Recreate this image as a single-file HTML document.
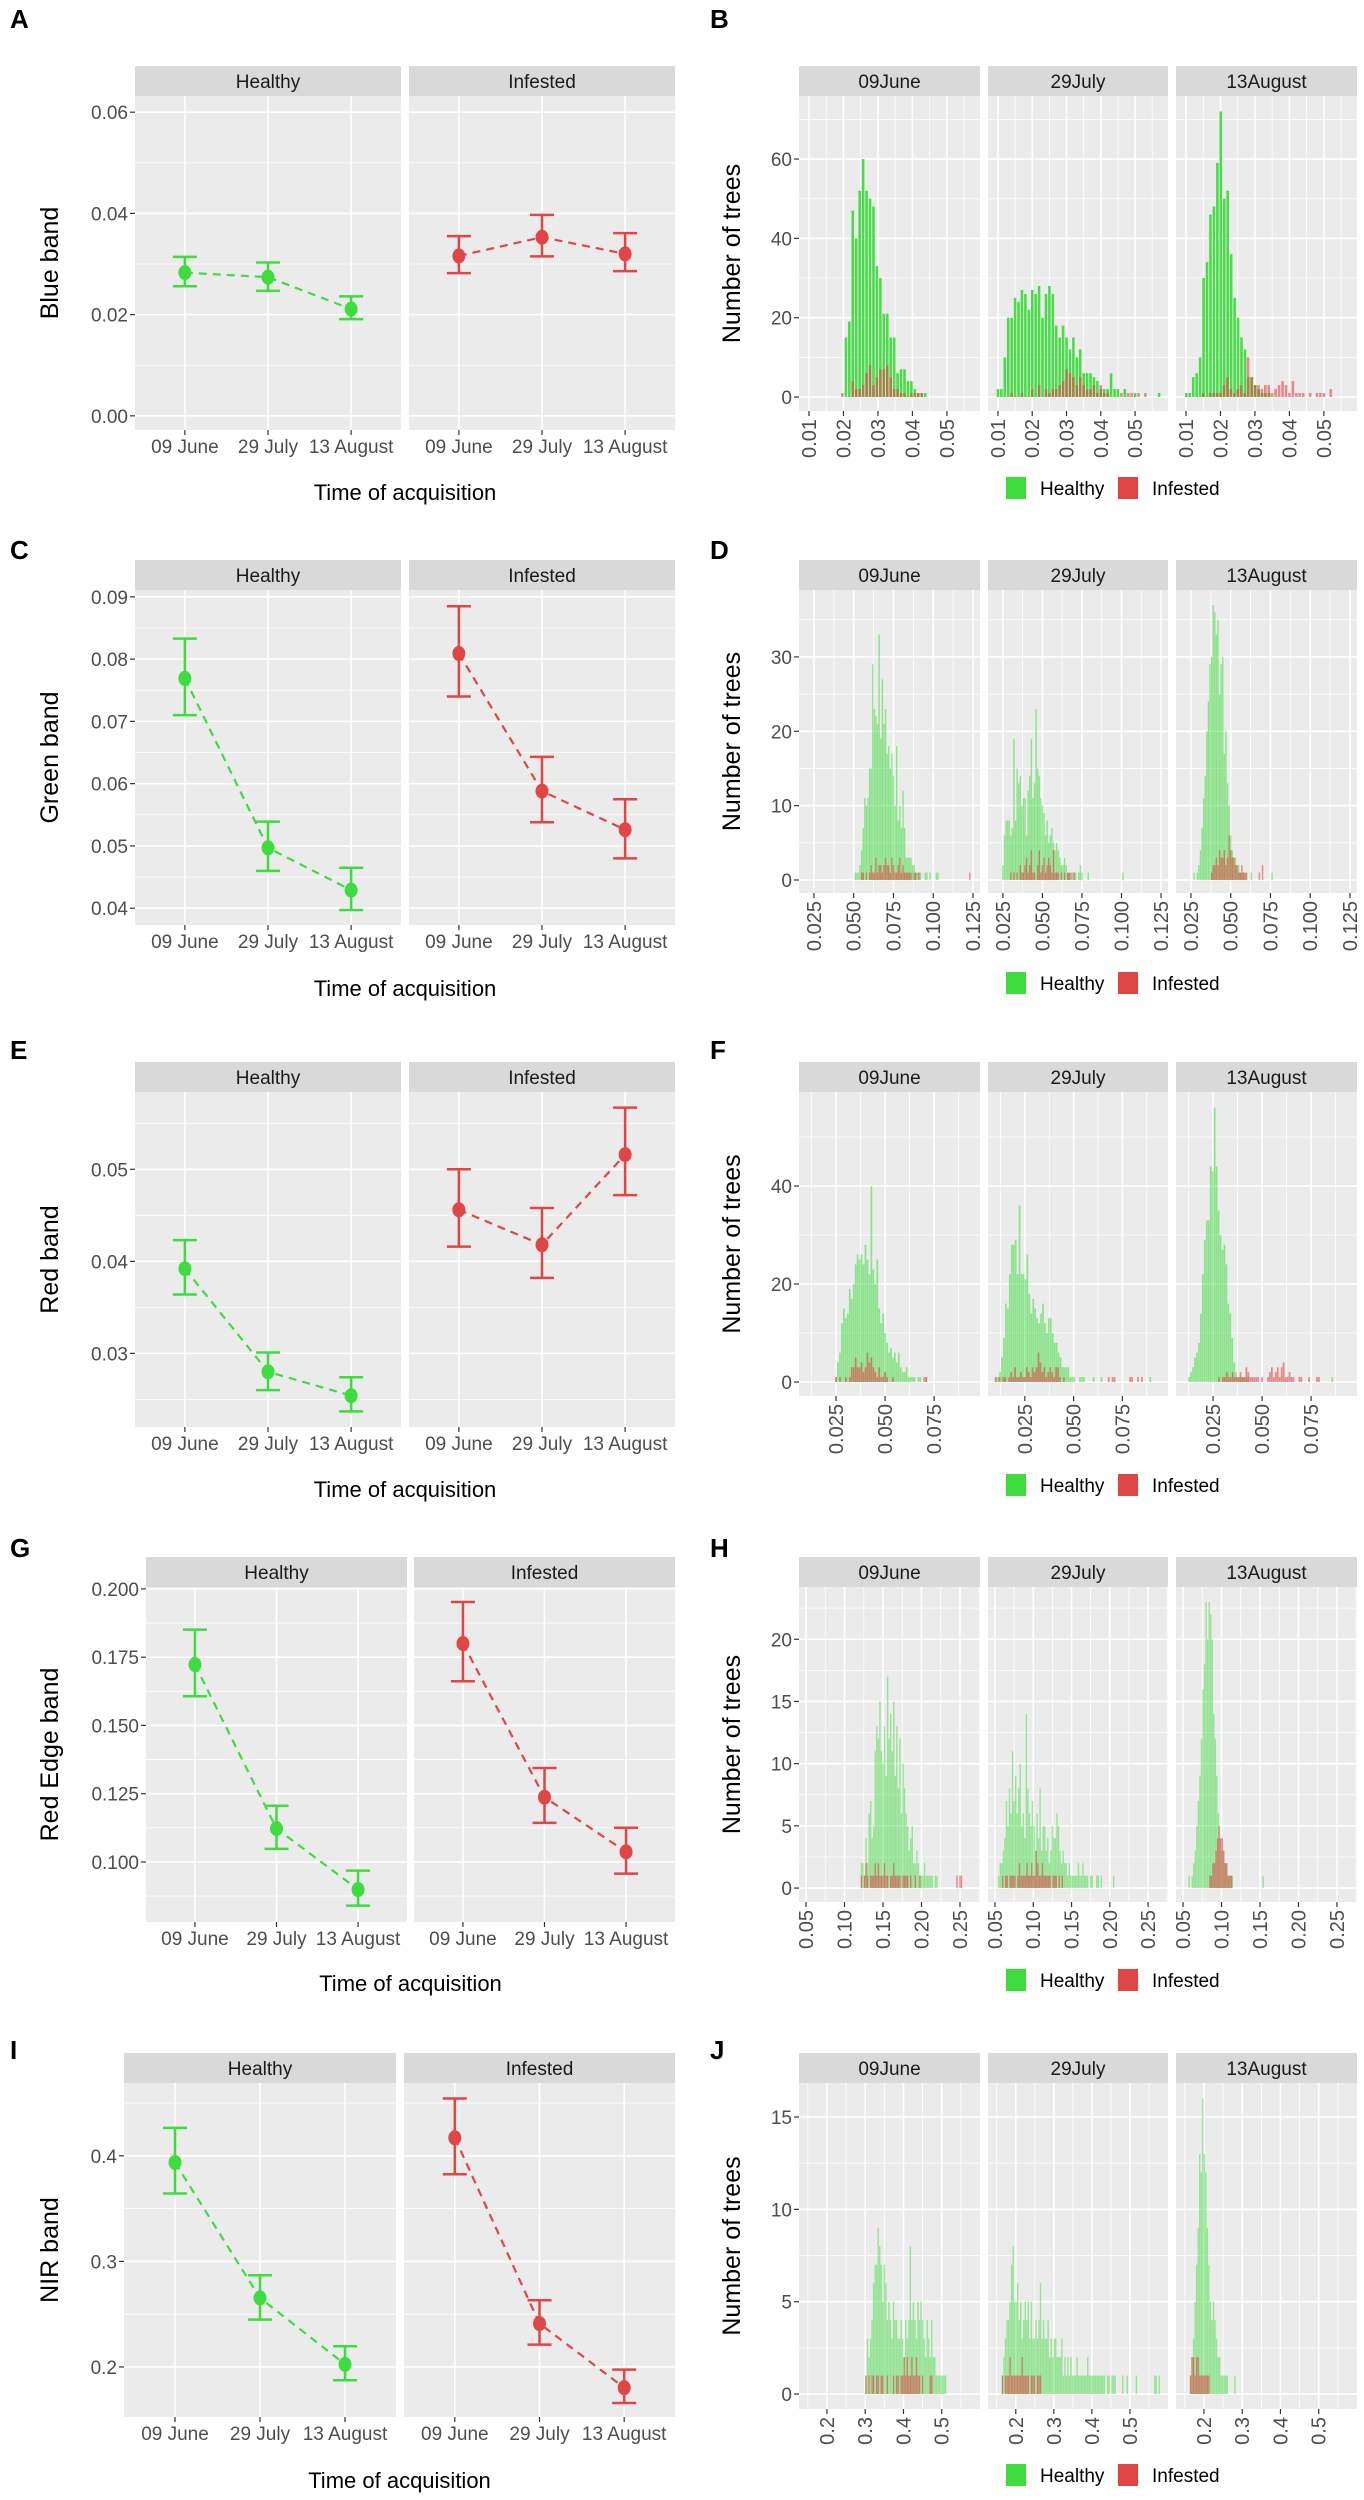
<!DOCTYPE html>
<html><head><meta charset="utf-8"><title>Spectral bands: healthy vs infested</title>
<style>
html,body{margin:0;padding:0;background:#fff;}
svg{display:block;font-family:"Liberation Sans",Arial,sans-serif;}
</style></head>
<body>
<svg id="fig" width="1364" height="2500" viewBox="0 0 1364 2500" xmlns="http://www.w3.org/2000/svg"></svg>
<script>
// ---------- dates / groups ----------
const dates = ["09 June","29 July","13 August"];
const histDates = ["09June","29July","13August"];
const groups = ["Healthy","Infested"];

// ---------- mean ± CI (left panels) ----------
const blueMeanH=[0.0283,0.0274,0.0211], blueLoH=[0.0256,0.0247,0.0191], blueHiH=[0.0314,0.0303,0.0236];
const blueMeanI=[0.0316,0.0353,0.0320], blueLoI=[0.0282,0.0315,0.0286], blueHiI=[0.0355,0.0397,0.0361];
const greenMeanH=[0.0769,0.0497,0.0429], greenLoH=[0.0710,0.0460,0.0397], greenHiH=[0.0833,0.0539,0.0465];
const greenMeanI=[0.0809,0.0588,0.0526], greenLoI=[0.0740,0.0538,0.0480], greenHiI=[0.0885,0.0643,0.0575];
const redMeanH=[0.0392,0.0280,0.0254], redLoH=[0.0364,0.0260,0.0237], redHiH=[0.0423,0.0301,0.0274];
const redMeanI=[0.0456,0.0418,0.0516], redLoI=[0.0416,0.0382,0.0472], redHiI=[0.0500,0.0458,0.0567];
const reMeanH=[0.1723,0.1122,0.0899], reLoH=[0.1607,0.1048,0.0840], reHiH=[0.1851,0.1206,0.0968];
const reMeanI=[0.1800,0.1237,0.1037], reLoI=[0.1662,0.1143,0.0957], reHiI=[0.1952,0.1344,0.1125];
const nirMeanH=[0.3937,0.2654,0.2025], nirLoH=[0.3643,0.2449,0.1874], nirHiH=[0.4265,0.2869,0.2196];
const nirMeanI=[0.4171,0.2411,0.1804], nirLoI=[0.3826,0.2212,0.1659], nirHiI=[0.4543,0.2632,0.1975];

// ---------- left axis ticks ----------
const blueTicks=[0,0.02,0.04,0.06], blueTickLabels=["0.00","0.02","0.04","0.06"];
const greenTicks=[0.04,0.05,0.06,0.07,0.08,0.09], greenTickLabels=["0.04","0.05","0.06","0.07","0.08","0.09"];
const redTicks=[0.03,0.04,0.05], redTickLabels=["0.03","0.04","0.05"];
const reTicks=[0.1,0.125,0.15,0.175,0.2], reTickLabels=["0.100","0.125","0.150","0.175","0.200"];
const nirTicks=[0.2,0.3,0.4], nirTickLabels=["0.2","0.3","0.4"];

// ---------- histogram counts (bin starts + counts) ----------
const blueJunHStart=0.0207, blueJunH=[15,19,47,40,52,60,52,50,48,33,30,21,21,15,15,6,7,7,4,4,2,1,1,1];
const blueJunIStart=0.0197, blueJunI=[1,0,0,4,2,2,3,6,8,3,5,7,7,8,5,2,2,1,1,0,1,1,1,1];
const blueJulHStart=0.0100, blueJulH=[2,2,10,20,20,25,24,27,26,22,27,26,28,20,26,28,26,18,15,18,15,12,15,10,12,6,6,6,5,4,2,2,2,6,2,2,0,2,0,0,1,0,0,0,0,0,0,1];
const blueJulIStart=0.0100, blueJulI=[0,0,0,0,1,0,0,1,0,0,2,0,3,0,2,1,2,2,3,4,7,6,5,3,5,3,2,2,3,1,3,1,1,0,0,0,1,0,1,1,0,1,0,1];
const blueAugHStart=0.0101, blueAugH=[1,1,5,6,10,30,34,46,48,59,72,50,52,36,25,20,15,12,5,5,3,2,1,1,1];
const blueAugIStart=0.0150, blueAugI=[1,0,1,1,1,1,3,5,2,1,2,3,1,10,5,3,3,2,3,3,1,2,3,4,3,1,4,1,1,1,0,1,0,1,1,1,0,2];

const greenJunHStart=0.051, greenJunH=[1,1,1,2,4,7,11,10,11,15,15,29,23,22,21,33,19,27,21,23,17,18,15,17,14,10,18,8,10,7,12,7,3,3,3,3,2,2,1,1,1,1,0,0,1,1,0,1,0,0,0,1,1];
const greenJunIStart=0.055, greenJunI=[1,1,0,1,0,1,2,1,1,3,1,2,2,1,2,3,2,2,1,3,2,1,1,2,3,1,2,1,1,1,1,1,0,1,1,0,1,0,0,0,0,0,0,0,0,0,0,0,0,0,0,0,0,0,0,0,0,0,0,0,0,0,0,0,0,0,0,0,1];
const greenJulHStart=0.025, greenJulH=[2,6,8,8,8,6,7,19,8,15,13,14,10,11,11,6,12,14,19,11,13,23,15,14,11,10,9,6,8,5,6,7,5,4,5,4,3,2,2,3,2,1,1,0,1,1,1,0,1,2,1,0,0,0,1,0,0,0,0,0,0,0,0,0,0,0,0,0,0,0,0,0,0,0,0,0,1];
const greenJulIStart=0.030, greenJulI=[1,0,1,0,1,0,2,1,1,2,3,1,2,4,1,1,0,2,4,1,2,3,1,2,3,2,1,4,1,1,1,0,1,0,1,0,1,1,1,0,1];
const greenAugHStart=0.027, greenAugH=[1,0,1,2,4,7,11,14,20,24,29,30,37,36,33,35,25,29,30,17,20,13,10,6,4,3,3,2,2,1,1,1,1,0,0,0,1,0,0,0,0,0,0,0,0,0,0,0,0,1];
const greenAugIStart=0.038, greenAugI=[1,2,2,3,2,4,3,3,4,2,3,6,4,3,3,2,2,1,1,2,1,1,1,0,0,0,0,0,0,0,1,0,2];

const redJunHStart=0.025, redJunH=[1,4,6,12,15,13,14,19,17,20,24,26,25,26,24,28,25,22,40,23,20,25,15,12,14,10,8,6,7,5,6,4,6,3,2,2,3,1,1,1,1,0,1,1,0,0,1];
const redJunIStart=0.025, redJunI=[1,0,1,0,0,1,0,1,3,3,5,3,3,4,2,3,6,4,5,3,2,1,3,1,1,2,1,0,0,1,0,0,0,0,0,0,0,0,0,0,0,0,0,0,0,1,1];
const redJulHStart=0.0103, redJulH=[1,1,2,5,9,16,15,22,28,28,29,22,36,22,22,21,26,18,14,17,15,13,12,14,16,12,10,13,13,10,8,8,6,5,3,3,3,3,1,1,1,0,0,1,1,1,0,0,0,0,1,0,0,0,1,0,0,0,0,0,0,0,0,0,0,0,0,0,0,0,0,0,0,0,0,0,0,0,0,1];
const redJulIStart=0.010, redJulI=[1,0,1,0,1,1,0,1,2,1,3,1,1,2,1,1,3,2,1,3,2,3,6,4,2,3,1,2,3,2,1,3,3,1,0,1,0,0,0,0,0,0,0,0,0,0,0,0,0,0,0,0,0,0,0,0,0,0,1,0,1,1,0,0,0,0,0,0,0,1,1,0,0,1,0,1];
const redAugHStart=0.0128, redAugH=[1,2,3,5,6,8,14,22,29,33,33,44,43,56,44,35,30,27,28,24,16,14,9,4,2,1,1,1,1,1,1,0,0,0,0,0,0,0,0,0,0,0,0,0,0,0,0,0,0,0,0,0,0,0,0,0,0,0,0,0,0,0,0,0,0,0,0,0,0,0,0,0,0,1];
const redAugIStart=0.028, redAugI=[1,0,1,1,2,1,1,2,1,1,1,2,1,1,3,2,1,1,1,1,1,0,1,0,0,1,2,3,1,2,3,1,3,4,1,1,2,1,1,0,0,1,1,0,0,0,1,0,0,0,1,1];

const reJunHStart=0.122, reJunH=[2,2,1,4,2,6,7,4,5,11,13,12,15,11,10,13,9,17,12,14,11,15,9,13,8,12,6,10,8,6,5,3,4,5,2,2,3,2,1,1,1,2,1,1,1,1,1,0,1,1];
const reJunIStart=0.122, reJunI=[1,0,1,2,1,0,1,1,1,2,1,2,1,1,1,2,1,1,0,1,1,2,1,1,1,1,0,1,1,1,1,0,1,0,0,1,0,0,1,0,0,0,0,0,0,0,0,0,0,0,0,0,0,0,0,0,0,0,0,0,0,0,1,0,1,1];
const reJulHStart=0.055, reJulH=[1,2,2,3,4,7,5,8,6,11,7,9,6,8,10,5,6,4,14,8,6,5,7,5,3,6,4,8,3,5,5,3,4,2,3,5,4,4,6,5,3,2,3,2,2,1,2,1,1,1,1,1,2,1,1,2,1,1,1,0,1,1,0,0,1,1,0,1,0,0,0,0,0,0,0,1];
const reJulIStart=0.060, reJulI=[1,0,1,1,0,1,1,1,1,0,1,2,1,1,1,1,2,1,1,2,1,1,3,2,1,1,2,1,1,1,1,1,0,1,1,1,0,1,0,1];
const reAugHStart=0.058, reAugH=[1,0,1,2,3,5,7,9,12,16,18,23,20,23,22,20,14,12,9,6,4,3,3,2,2,1,1,1,1,0,0,0,0,0,0,0,0,0,0,0,0,0,0,0,0,0,0,0,1];
const reAugIStart=0.085, reAugI=[1,1,2,2,3,4,5,4,4,3,2,2,1,1,1];

const nirJunHStart=0.302, nirJunH=[1,3,2,3,4,6,7,7,9,8,7,5,7,6,4,5,4,3,5,4,4,3,3,4,3,2,4,3,4,8,4,5,4,3,5,4,5,4,3,2,4,3,2,4,2,2,1,1,1,1,1,1,1];
const nirJunIStart=0.302, nirJunI=[1,0,1,0,1,1,0,1,1,0,1,1,0,0,1,0,0,0,1,0,1,1,0,1,1,2,1,2,1,1,2,1,1,2,1,1,0,1,0,0,0,0,1,1];
const nirJulHStart=0.165, nirJulH=[1,2,3,4,4,5,7,8,5,5,6,4,5,3,4,5,4,5,3,5,3,3,4,3,4,6,3,4,3,3,4,2,3,2,3,3,2,2,2,3,1,2,1,2,1,2,1,1,1,2,1,1,1,1,1,1,2,1,1,1,1,1,1,1,1,1,1,1,0,1,1,0,1,1,1,0,0,0,0,1,0,0,1,0,0,0,0,0,1,0,0,0,0,0,0,0,0,0,0,0,1,1,0,1];
const nirJulIStart=0.165, nirJulI=[1,0,1,1,1,2,1,1,1,1,1,1,1,2,1,1,1,1,0,1,1,1,0,1,1,1];
const nirAugHStart=0.165, nirAugH=[1,2,3,5,7,9,13,12,16,13,12,9,7,5,4,5,4,3,2,2,1,1,1,1,1,0,0,0,0,1];
const nirAugIStart=0.165, nirAugI=[1,2,2,1,2,2,1,1,1,1,1,1,1];

// histogram axis ticks
const blueHistYTicks=[0,20,40,60], blueHistXTicks=[0.01,0.02,0.03,0.04,0.05], blueHistXLabels=["0.01","0.02","0.03","0.04","0.05"];
const greenHistYTicks=[0,10,20,30], greenHistXTicks=[0.025,0.05,0.075,0.1,0.125], greenHistXLabels=["0.025","0.050","0.075","0.100","0.125"];
const redHistYTicks=[0,20,40], redHistXTicks=[0.025,0.05,0.075], redHistXLabels=["0.025","0.050","0.075"];
const reHistYTicks=[0,5,10,15,20], reHistXTicks=[0.05,0.1,0.15,0.2,0.25], reHistXLabels=["0.05","0.10","0.15","0.20","0.25"];
const nirHistYTicks=[0,5,10,15], nirHistXTicks=[0.2,0.3,0.4,0.5], nirHistXLabels=["0.2","0.3","0.4","0.5"];

// ---------- rendering ----------
const NS="http://www.w3.org/2000/svg";
const svg=document.getElementById('fig');
const GREEN="#3fdc3f", RED="#e04646", PANEL="#ebebeb", STRIP="#d9d9d9";
function mk(tag,attrs,parent){const e=document.createElementNS(NS,tag);for(const k in attrs)e.setAttribute(k,attrs[k]);(parent||svg).appendChild(e);return e;}
function txt(s,attrs,parent){const e=mk('text',attrs,parent);e.textContent=s;return e;}

function drawLeft(cfg){
  const g=mk('g',{});
  
  
  let t=txt(cfg.letter,{x:10,y:cfg.letterY,'font-size':26,'font-weight':'bold',fill:'#000'},g);
  
  
  const ys=v=>cfg.s1+(cfg.top-v)/(cfg.top-cfg.bot)*(cfg.b-cfg.s1);
  const series=[[cfg.mH,cfg.loH,cfg.hiH,GREEN],[cfg.mI,cfg.loI,cfg.hiI,RED]];
  for(let p=0;p<2;p++){
    const [x0,x1]=cfg.px[p];
    const sr=mk('rect',{x:x0,y:cfg.s0,width:x1-x0,height:cfg.s1-cfg.s0,fill:STRIP},g);
    
    
    const st=txt(groups[p],{x:(x0+x1)/2,y:(cfg.s0+cfg.s1)/2+7,'font-size':19,'text-anchor':'middle',fill:'#1a1a1a'},g);
    
    
    const pr=mk('rect',{x:x0,y:cfg.s1,width:x1-x0,height:cfg.b-cfg.s1,fill:PANEL},g);
    
    
    for(let i=0;i<cfg.ticks.length-1;i++){const v=(cfg.ticks[i]+cfg.ticks[i+1])/2;mk('line',{x1:x0,x2:x1,y1:ys(v),y2:ys(v),stroke:'#fff','stroke-width':0.8},g);}
    const extraMinor=[cfg.ticks[0]-(cfg.ticks[1]-cfg.ticks[0])/2,cfg.ticks[cfg.ticks.length-1]+(cfg.ticks[1]-cfg.ticks[0])/2];
    extraMinor.forEach(v=>{if(v<cfg.top&&v>cfg.bot)mk('line',{x1:x0,x2:x1,y1:ys(v),y2:ys(v),stroke:'#fff','stroke-width':0.8},g);});
    cfg.ticks.forEach(v=>mk('line',{x1:x0,x2:x1,y1:ys(v),y2:ys(v),stroke:'#fff','stroke-width':1.6},g));
    const xc=i=>x0+(0.6+i)*(x1-x0)/3.2;
    for(let i=0;i<3;i++){
      mk('line',{x1:xc(i),x2:xc(i),y1:cfg.s1,y2:cfg.b,stroke:'#fff','stroke-width':1.6},g);
      mk('line',{x1:xc(i),x2:xc(i),y1:cfg.b,y2:cfg.b+5,stroke:'#333','stroke-width':1.2},g);
      const cl=txt(dates[i],{x:xc(i),y:cfg.b+23,'font-size':19,'text-anchor':'middle',fill:'#4d4d4d'},g);
      
      
    }
    const [m,lo,hi,col]=series[p];
    const ln=mk('polyline',{points:m.map((v,i)=>xc(i)+','+ys(v)).join(' '),fill:'none',stroke:col,'stroke-width':2.2,'stroke-dasharray':'8,6'},g);
    
    
    for(let i=0;i<3;i++){
      const eb=mk('path',{d:`M${xc(i)-12},${ys(hi[i])}H${xc(i)+12}M${xc(i)},${ys(hi[i])}V${ys(lo[i])}M${xc(i)-12},${ys(lo[i])}H${xc(i)+12}`,stroke:col,'stroke-width':2.5,fill:'none'},g);
      
      
      const pt=mk('ellipse',{cx:xc(i),cy:ys(m[i]),rx:6.5,ry:7.5,fill:col},g);
      
      
    }
    if(p===0){
      cfg.ticks.forEach((v,i)=>{
        mk('line',{x1:x0-5,x2:x0,y1:ys(v),y2:ys(v),stroke:'#333','stroke-width':1.2},g);
        const tl=txt(cfg.tickLabels[i],{x:x0-7,y:ys(v)+7,'font-size':19,'text-anchor':'end',fill:'#4d4d4d'},g);
        
        
      });
    }
  }
  const yc=(cfg.s1+cfg.b)/2;
  const yt=txt(cfg.ytitle,{x:0,y:0,'font-size':25,'text-anchor':'middle',fill:'#000',transform:`translate(58,${yc}) rotate(-90)`},g);
  
  
  const xt=txt('Time of acquisition',{x:(cfg.px[0][0]+cfg.px[1][1])/2,y:cfg.titleY+8,'font-size':22,'text-anchor':'middle',fill:'#000'},g);
  
  
}

function drawHist(cfg){
  const g=mk('g',{});
  
  
  const px=[[799,980],[988,1168],[1176,1357]];
  let t=txt(cfg.letter,{x:710,y:cfg.letterY,'font-size':26,'font-weight':'bold',fill:'#000'},g);
  
  
  const ys=v=>cfg.s1+(cfg.top-v)/(cfg.top-cfg.bot)*(cfg.b-cfg.s1);
  for(let p=0;p<3;p++){
    const [x0,x1]=px[p];
    const xs=v=>x0+(v-cfg.xmin)/(cfg.xmax-cfg.xmin)*(x1-x0);
    const sr=mk('rect',{x:x0,y:cfg.s0,width:x1-x0,height:cfg.s1-cfg.s0,fill:STRIP},g);
    
    
    const st=txt(histDates[p],{x:(x0+x1)/2,y:(cfg.s0+cfg.s1)/2+7,'font-size':19,'text-anchor':'middle',fill:'#1a1a1a'},g);
    
    
    const pr=mk('rect',{x:x0,y:cfg.s1,width:x1-x0,height:cfg.b-cfg.s1,fill:PANEL},g);
    
    
    const yt=cfg.yTicks, ystep=yt[1]-yt[0];
    for(let v=yt[0]-ystep/2;v<cfg.top;v+=ystep){if(v>cfg.bot)mk('line',{x1:x0,x2:x1,y1:ys(v),y2:ys(v),stroke:'#fff','stroke-width':0.8},g);}
    yt.forEach(v=>mk('line',{x1:x0,x2:x1,y1:ys(v),y2:ys(v),stroke:'#fff','stroke-width':1.6},g));
    const xt=cfg.xTicks, xstep=xt[1]-xt[0];
    for(let v=xt[0]-xstep/2;v<cfg.xmax;v+=xstep){if(v>cfg.xmin)mk('line',{x1:xs(v),x2:xs(v),y1:cfg.s1,y2:cfg.b,stroke:'#fff','stroke-width':0.8},g);}
    xt.forEach((v,i)=>{
      mk('line',{x1:xs(v),x2:xs(v),y1:cfg.s1,y2:cfg.b,stroke:'#fff','stroke-width':1.6},g);
      mk('line',{x1:xs(v),x2:xs(v),y1:cfg.b,y2:cfg.b+5,stroke:'#333','stroke-width':1.2},g);
      const tl=txt(cfg.xLabels[i],{x:0,y:0,'font-size':20,'text-anchor':'end',fill:'#4d4d4d',transform:`translate(${xs(v)+7},${cfg.b+8}) rotate(-90)`},g);
      
      
    });
    const sets=[[cfg.data[p][0],cfg.data[p][1],GREEN,cfg.gOp,'healthy-bar'],[cfg.data[p][2],cfg.data[p][3],RED,0.6,'infested-bar']];
    sets.forEach(([start,counts,col,op,nm])=>{
      counts.forEach((c,i)=>{
        if(c<=0)return;
        const c0=start+i*cfg.bw;
        const xa=xs(c0-cfg.bw/2), xb=xs(c0+cfg.bw/2);
        const w=Math.max(0.6,(xb-xa)*cfg.fillFrac);
        const r=mk('rect',{x:xa+((xb-xa)-w)/2,y:ys(c),width:w,height:ys(0)-ys(c),fill:col,'fill-opacity':op},g);
        
        
      });
    });
    if(p===0){
      yt.forEach(v=>{
        mk('line',{x1:x0-5,x2:x0,y1:ys(v),y2:ys(v),stroke:'#333','stroke-width':1.2},g);
        const tl=txt(String(v),{x:x0-7,y:ys(v)+7,'font-size':19,'text-anchor':'end',fill:'#4d4d4d'},g);
        
        
      });
    }
  }
  const yc=(cfg.s1+cfg.b)/2;
  const ytl=txt('Number of trees',{x:0,y:0,'font-size':25,'text-anchor':'middle',fill:'#000',transform:`translate(740,${yc}) rotate(-90)`},g);
  
  
  const ly=cfg.legY;
  const l1=mk('rect',{x:1006,y:ly-11,width:20,height:22,fill:GREEN},g);
  
  
  const l1t=txt('Healthy',{x:1040,y:ly+7,'font-size':19,fill:'#000'},g);
  
  
  const l2=mk('rect',{x:1118,y:ly-11,width:20,height:22,fill:RED},g);
  
  
  const l2t=txt('Infested',{x:1152,y:ly+7,'font-size':19,fill:'#000'},g);
  
  
}

const P2=[[135,401],[409,675]];
drawLeft({name:'blue-band-chart',letter:'A',letterY:28,s0:66,s1:96,b:430,top:0.0632,bot:-0.0028,px:P2,ticks:blueTicks,tickLabels:blueTickLabels,ytitle:'Blue band',titleY:492,mH:blueMeanH,loH:blueLoH,hiH:blueHiH,mI:blueMeanI,loI:blueLoI,hiI:blueHiI});
drawLeft({name:'green-band-chart',letter:'C',letterY:559,s0:560,s1:590,b:925,top:0.0911,bot:0.0373,px:P2,ticks:greenTicks,tickLabels:greenTickLabels,ytitle:'Green band',titleY:988,mH:greenMeanH,loH:greenLoH,hiH:greenHiH,mI:greenMeanI,loI:greenLoI,hiI:greenHiI});
drawLeft({name:'red-band-chart',letter:'E',letterY:1059,s0:1062,s1:1092,b:1427,top:0.0584,bot:0.0220,px:P2,ticks:redTicks,tickLabels:redTickLabels,ytitle:'Red band',titleY:1489,mH:redMeanH,loH:redLoH,hiH:redHiH,mI:redMeanI,loI:redLoI,hiI:redHiI});
drawLeft({name:'red-edge-band-chart',letter:'G',letterY:1557,s0:1557,s1:1587,b:1922,top:0.2007,bot:0.078,px:[[146,407],[414,675]],ticks:reTicks,tickLabels:reTickLabels,ytitle:'Red Edge band',titleY:1983,mH:reMeanH,loH:reLoH,hiH:reHiH,mI:reMeanI,loI:reLoI,hiI:reHiI});
drawLeft({name:'nir-band-chart',letter:'I',letterY:2059,s0:2053,s1:2083,b:2417,top:0.469,bot:0.1526,px:[[124,396],[404,675]],ticks:nirTicks,tickLabels:nirTickLabels,ytitle:'NIR band',titleY:2480,mH:nirMeanH,loH:nirLoH,hiH:nirHiH,mI:nirMeanI,loI:nirLoI,hiI:nirHiI});

drawHist({name:'blue-band-histogram',letter:'B',letterY:28,s0:66,s1:96,b:411,top:75.9,bot:-3.53,xmin:0.0071,xmax:0.0596,bw:0.001,fillFrac:0.75,gOp:0.95,yTicks:blueHistYTicks,xTicks:blueHistXTicks,xLabels:blueHistXLabels,legY:488,
  data:[[blueJunHStart,blueJunH,blueJunIStart,blueJunI],[blueJulHStart,blueJulH,blueJulIStart,blueJulI],[blueAugHStart,blueAugH,blueAugIStart,blueAugI]]});
drawHist({name:'green-band-histogram',letter:'D',letterY:559,s0:560,s1:590,b:893,top:39.0,bot:-1.75,xmin:0.0156,xmax:0.1294,bw:0.001,fillFrac:0.9,gOp:0.55,yTicks:greenHistYTicks,xTicks:greenHistXTicks,xLabels:greenHistXLabels,legY:983,
  data:[[greenJunHStart,greenJunH,greenJunIStart,greenJunI],[greenJulHStart,greenJulH,greenJulIStart,greenJulI],[greenAugHStart,greenAugH,greenAugIStart,greenAugI]]});
drawHist({name:'red-band-histogram',letter:'F',letterY:1059,s0:1062,s1:1092,b:1396,top:59.2,bot:-2.86,xmin:0.0061,xmax:0.0984,bw:0.001,fillFrac:0.9,gOp:0.55,yTicks:redHistYTicks,xTicks:redHistXTicks,xLabels:redHistXLabels,legY:1485,
  data:[[redJunHStart,redJunH,redJunIStart,redJunI],[redJulHStart,redJulH,redJulIStart,redJulI],[redAugHStart,redAugH,redAugIStart,redAugI]]});
drawHist({name:'red-edge-band-histogram',letter:'H',letterY:1557,s0:1557,s1:1587,b:1902,top:24.2,bot:-1.12,xmin:0.0409,xmax:0.276,bw:0.002,fillFrac:0.9,gOp:0.5,yTicks:reHistYTicks,xTicks:reHistXTicks,xLabels:reHistXLabels,legY:1980,
  data:[[reJunHStart,reJunH,reJunIStart,reJunI],[reJulHStart,reJulH,reJulIStart,reJulI],[reAugHStart,reAugH,reAugIStart,reAugI]]});
drawHist({name:'nir-band-histogram',letter:'J',letterY:2059,s0:2053,s1:2083,b:2409,top:16.84,bot:-0.81,xmin:0.127,xmax:0.60,bw:0.004,fillFrac:0.9,gOp:0.5,yTicks:nirHistYTicks,xTicks:nirHistXTicks,xLabels:nirHistXLabels,legY:2475,
  data:[[nirJunHStart,nirJunH,nirJunIStart,nirJunI],[nirJulHStart,nirJulH,nirJulIStart,nirJulI],[nirAugHStart,nirAugH,nirAugIStart,nirAugI]]});
</script>
</body></html>
